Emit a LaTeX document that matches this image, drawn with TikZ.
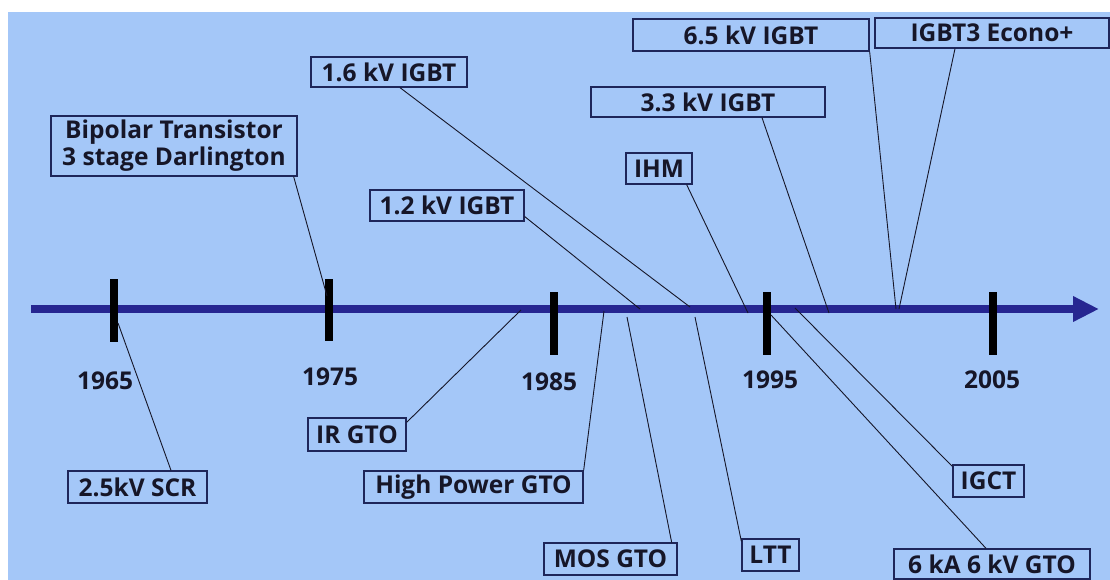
\documentclass[tikz,border=0pt]{standalone}
\usepackage{fontspec}
\setmainfont{Open Sans}
\usetikzlibrary{arrows.meta}
\definecolor{bgblue}{RGB}{164,199,248}
\definecolor{axblue}{RGB}{38,38,145}
\definecolor{boxline}{RGB}{30,38,90}
\definecolor{txt}{RGB}{22,22,40}
\tikzset{
  lbl/.style={draw=boxline,line width=1.3pt,inner sep=0pt,text=txt,font=\bfseries\fontsize{24.5}{27}\selectfont,align=center},
  yr/.style={text=txt,font=\bfseries\fontsize{24.5}{27}\selectfont,inner sep=0pt},
  conn/.style={draw=txt,line width=0.9pt},
  tickmark/.style={draw=black,line width=7.5pt},
}
\begin{document}
\begin{tikzpicture}[x=1pt,y=-1pt]
\useasboundingbox (0,0) rectangle (1110,579);
\fill[white] (0,0) rectangle (1110,579);
\fill[bgblue] (8,12) rectangle (1112,582);
% axis
\coordinate (ax0) at (31,309);
\coordinate (ax1) at (1099,309);
\draw[axblue,line width=8pt,-{Triangle[length=26pt,width=24pt]}] (ax0) -- (ax1);
% ticks
\coordinate (t65a) at (114,279); \coordinate (t65b) at (114,342);
\coordinate (t75a) at (329,279); \coordinate (t75b) at (329,341);
\coordinate (t85a) at (554,292); \coordinate (t85b) at (554,355);
\coordinate (t95a) at (767,292); \coordinate (t95b) at (767,355);
\coordinate (t05a) at (993,292); \coordinate (t05b) at (993,355);
\draw[tickmark] (t65a) -- (t65b);
\draw[tickmark] (t75a) -- (t75b);
\draw[tickmark] (t85a) -- (t85b);
\draw[tickmark] (t95a) -- (t95b);
\draw[tickmark] (t05a) -- (t05b);
% years
\node[yr] (y65) at (105,381) {1965};
\node[yr] (y75) at (330,377) {1975};
\node[yr] (y85) at (549,382) {1985};
\node[yr] (y95) at (770,380) {1995};
\node[yr] (y05) at (992,380) {2005};
% boxes above
\node[lbl,minimum width=156pt,minimum height=30pt] (b16) at (389,72) {1.6 kV IGBT};
\node[lbl,minimum width=246pt,minimum height=60pt] (bip) at (174,146) {Bipolar Transistor\\[0pt]3 stage Darlington};
\node[lbl,minimum width=154pt,minimum height=31pt] (b12) at (447,205.5) {1.2 kV IGBT};
\node[lbl,minimum width=236pt,minimum height=32pt] (b65) at (751,35) {6.5 kV IGBT};
\node[lbl,minimum width=234pt,minimum height=30pt] (eco) at (992,33) {IGBT3 Econo+};
\node[lbl,minimum width=234pt,minimum height=30pt] (b33) at (708,102) {3.3 kV IGBT};
\node[lbl,minimum width=66pt,minimum height=31pt] (ihm) at (659,168.5) {IHM};
% boxes below
\node[lbl,minimum width=98pt,minimum height=33pt] (irg) at (357,434.5) {IR GTO};
\node[lbl,minimum width=139pt,minimum height=32pt] (scr) at (137.5,487) {2.5kV SCR};
\node[lbl,minimum width=219pt,minimum height=32pt] (hpg) at (473.5,487) {High Power GTO};
\node[lbl,minimum width=133pt,minimum height=32pt] (mos) at (610.5,559) {MOS GTO};
\node[lbl,minimum width=57pt,minimum height=32pt] (ltt) at (770.5,555) {LTT};
\node[lbl,minimum width=71pt,minimum height=32pt] (igct) at (988.5,481) {IGCT};
\node[lbl,minimum width=196pt,minimum height=30pt] (g6) at (992,564) {6 kA 6 kV GTO};
% axis points
\coordinate (p16) at (690,307);
\coordinate (pbip) at (327,296);
\coordinate (p12) at (640,309);
\coordinate (pihm) at (748,313);
\coordinate (p33) at (829,313);
\coordinate (p65) at (896,309);
\coordinate (peco) at (899,309);
\coordinate (pscr) at (118,323);
\coordinate (pirg) at (521,310);
\coordinate (phpg) at (604,311);
\coordinate (pmos) at (627,317);
\coordinate (pltt) at (695,317);
\coordinate (pigct) at (795,308);
\coordinate (pg6) at (771,315);
% connectors
\draw[conn] ([xshift=11pt]b16.south) -- (p16);
\draw[conn] ([xshift=-4pt]bip.south east) -- (pbip);
\draw[conn] ([yshift=-11pt]b12.east) -- (p12);
\draw[conn] ([xshift=-6pt]ihm.south east) -- (pihm);
\draw[conn] ([xshift=54pt]b33.south) -- (p33);
\draw[conn] (b65.south east) -- (p65);
\draw[conn] ([xshift=-37pt]eco.south) -- (peco);
\draw[conn] (pscr) -- ([xshift=33.5pt]scr.north);
\draw[conn] (pirg) -- ([yshift=-5pt]irg.north east);
\draw[conn] (phpg) -- (hpg.north east);
\draw[conn] (pmos) -- ([xshift=-6pt]mos.north east);
\draw[conn] (pltt) -- ([yshift=-3pt]ltt.north west);
\draw[conn] (pigct) -- ([yshift=-2pt]igct.north west);
\draw[conn] (pg6) -- ([xshift=-6pt]g6.north);
\end{tikzpicture}
\end{document}
